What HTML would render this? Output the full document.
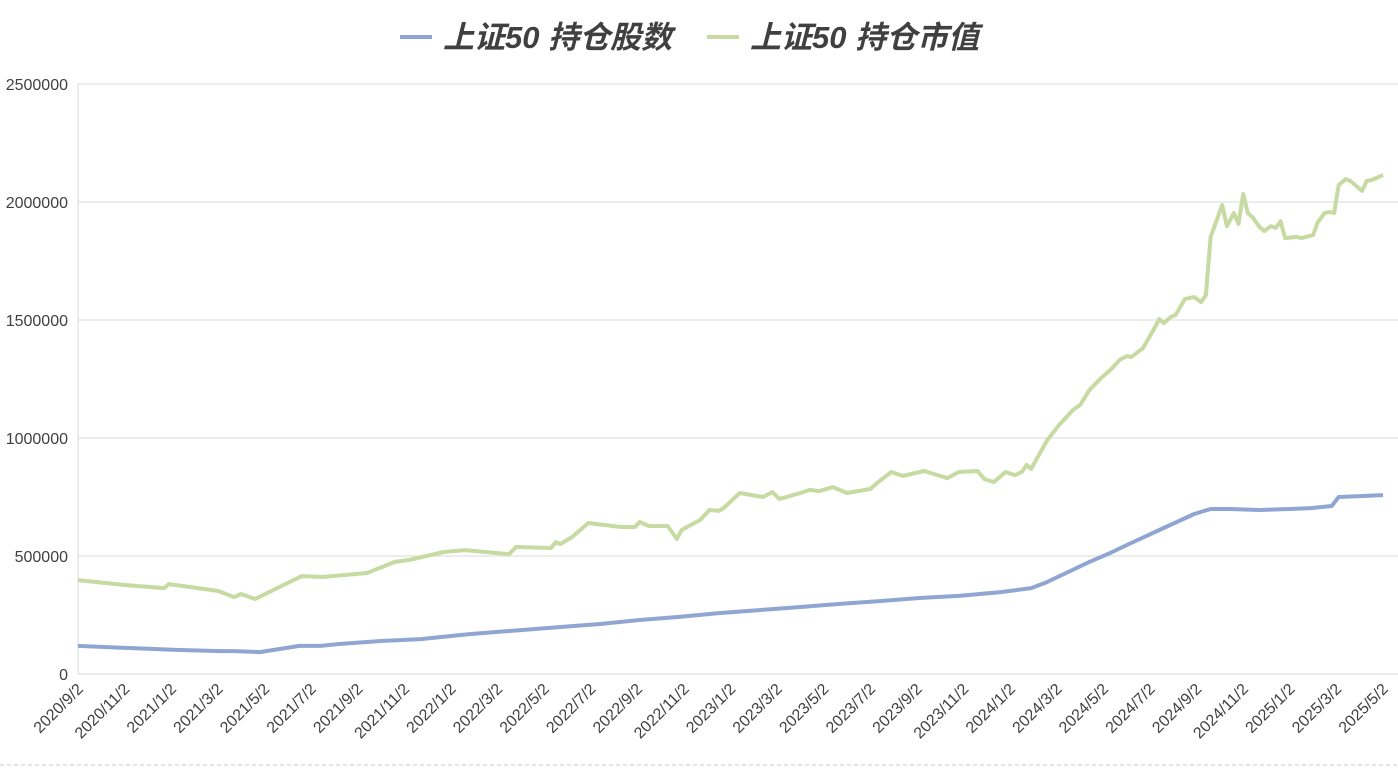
<!DOCTYPE html>
<html><head><meta charset="utf-8"><style>
html,body{margin:0;padding:0;background:#fff;width:1398px;height:768px;overflow:hidden}
svg text{font-family:"Liberation Sans","Noto Sans CJK SC",sans-serif}
</style></head><body>
<svg id="chart" width="1398" height="768" xmlns="http://www.w3.org/2000/svg">
<g id="legend">
<g>
<line x1="400" y1="37" x2="432" y2="37" stroke="#8fa5d2" stroke-width="4"/>
<text x="443" y="48" font-size="31" font-weight="bold" font-style="italic" fill="#404040">上证50 持仓股数</text>
</g>
<g>
<line x1="707" y1="37" x2="739" y2="37" stroke="#c6daa2" stroke-width="4"/>
<text x="750" y="48" font-size="31" font-weight="bold" font-style="italic" fill="#404040">上证50 持仓市值</text>
</g>
</g>
<g id="grid"></g><g id="yaxis"></g><g id="xaxis"></g><g id="series"></g>
<line x1="0" y1="765" x2="1398" y2="765" stroke="#c8c8c8" stroke-dasharray="4 3"/>
</svg>
<script>
const yTicks=[0,500000,1000000,1500000,2000000,2500000];
const xLabels=["2020/9/2","2020/11/2","2021/1/2","2021/3/2","2021/5/2","2021/7/2","2021/9/2","2021/11/2","2022/1/2","2022/3/2","2022/5/2","2022/7/2","2022/9/2","2022/11/2","2023/1/2","2023/3/2","2023/5/2","2023/7/2","2023/9/2","2023/11/2","2024/1/2","2024/3/2","2024/5/2","2024/7/2","2024/9/2","2024/11/2","2025/1/2","2025/3/2","2025/5/2"];
// month offsets from 2020/9/2
const sharesT=[0,2.2,4.2,6.1,6.7,7.8,9.5,10.4,11.2,13.0,14.7,16.8,19.0,20.7,22.4,24.1,25.8,27.5,29.3,31.0,32.7,34.4,36.1,37.8,39.6,40.9,41.5,42.4,43.4,44.3,45.1,46.4,47.9,48.6,49.4,50.7,52.0,52.9,53.8,54.1,55.0,56.0];
const sharesV=[119000,110000,102000,97000,97000,93000,119000,119000,127000,140000,148000,169000,186000,199000,212000,229000,242000,258000,271000,284000,297000,309000,322000,331000,347000,364000,386000,428000,475000,513000,551000,610000,678000,699000,699000,695000,699000,703000,712000,750000,754000,758000];
const valueT=[0,2.0,3.7,3.9,6.0,6.7,7.0,7.6,9.6,10.5,12.4,13.6,14.2,15.7,16.6,18.5,18.8,20.3,20.5,20.7,21.2,21.9,23.3,23.9,24.1,24.5,25.3,25.7,25.9,26.7,27.1,27.5,27.7,28.4,29.4,29.8,30.1,31.0,31.4,31.8,32.4,33.0,34.0,34.4,34.9,35.4,36.3,37.3,37.8,38.6,38.9,39.3,39.8,40.2,40.5,40.7,40.9,41.6,42.1,42.7,43.0,43.4,43.9,44.3,44.7,45.0,45.2,45.7,46.1,46.4,46.6,46.9,47.1,47.5,47.9,48.2,48.4,48.6,49.1,49.3,49.6,49.8,50.0,50.2,50.4,50.7,50.9,51.2,51.4,51.6,51.8,52.3,52.5,53.0,53.2,53.5,53.7,53.9,54.1,54.4,54.6,55.1,55.3,55.5,56.0];
const valueV=[398000,377000,364000,381000,352000,326000,339000,318000,415000,411000,428000,475000,483000,517000,525000,508000,538000,534000,559000,551000,580000,640000,623000,623000,644000,627000,627000,572000,610000,653000,695000,691000,703000,767000,750000,771000,742000,767000,780000,775000,792000,767000,784000,818000,856000,839000,860000,830000,856000,860000,826000,813000,856000,843000,856000,886000,869000,992000,1055000,1119000,1140000,1203000,1254000,1288000,1331000,1347000,1343000,1381000,1449000,1504000,1487000,1513000,1521000,1589000,1597000,1576000,1606000,1852000,1987000,1898000,1953000,1907000,2034000,1953000,1936000,1894000,1877000,1898000,1890000,1919000,1847000,1852000,1847000,1860000,1915000,1953000,1958000,1953000,2072000,2097000,2089000,2047000,2089000,2093000,2114000];
const X0=78,X1=1383,Y0=674,Y1=84,TMAX=56,VMAX=2500000;
const xs=t=>X0+(X1-X0)*t/TMAX;
const ys=v=>Y0-(Y0-Y1)*v/VMAX;
const NS="http://www.w3.org/2000/svg";
function mk(tag,parent,attrs){const e=document.createElementNS(NS,tag);for(const k in attrs)e.setAttribute(k,attrs[k]);parent.appendChild(e);return e;}
const grid=document.getElementById('grid'),ya=document.getElementById('yaxis'),xa=document.getElementById('xaxis'),se=document.getElementById('series');
yTicks.forEach(v=>{
  if(v>0){const g=mk('line',grid,{x1:X0,x2:X1+15,y1:ys(v),y2:ys(v),stroke:'#d9d9d9','stroke-width':1});
  
  }
  const t=mk('text',ya,{x:68,y:ys(v)+6,'text-anchor':'end','font-size':16,fill:'#404040'});
  
  
  t.textContent=v;
});
const ax=mk('line',xa,{x1:X0,x2:X0,y1:Y1,y2:Y0,stroke:'#d9d9d9'});


const bx=mk('line',xa,{x1:X0,x2:X1+15,y1:Y0,y2:Y0,stroke:'#d9d9d9'});


xLabels.forEach((s,i)=>{
  const x=xs(i*2)+6,y=Y0+16;
  const t=mk('text',xa,{x:x,y:y,'text-anchor':'end','font-size':16,fill:'#404040',transform:`rotate(-45 ${x} ${y})`});
  
  
  t.textContent=s;
});
function line(T,V,color,name){
  const d=T.map((t,i)=>(i?'L':'M')+xs(t).toFixed(1)+','+ys(V[i]).toFixed(1)).join('');
  const p=mk('path',se,{d:d,fill:'none',stroke:color,'stroke-width':4,'stroke-linejoin':'round'});
  
  
}
line(valueT,valueV,'#c6daa2','market-value-line');
line(sharesT,sharesV,'#8fa5d2','shares-line');
</script>
</body></html>
